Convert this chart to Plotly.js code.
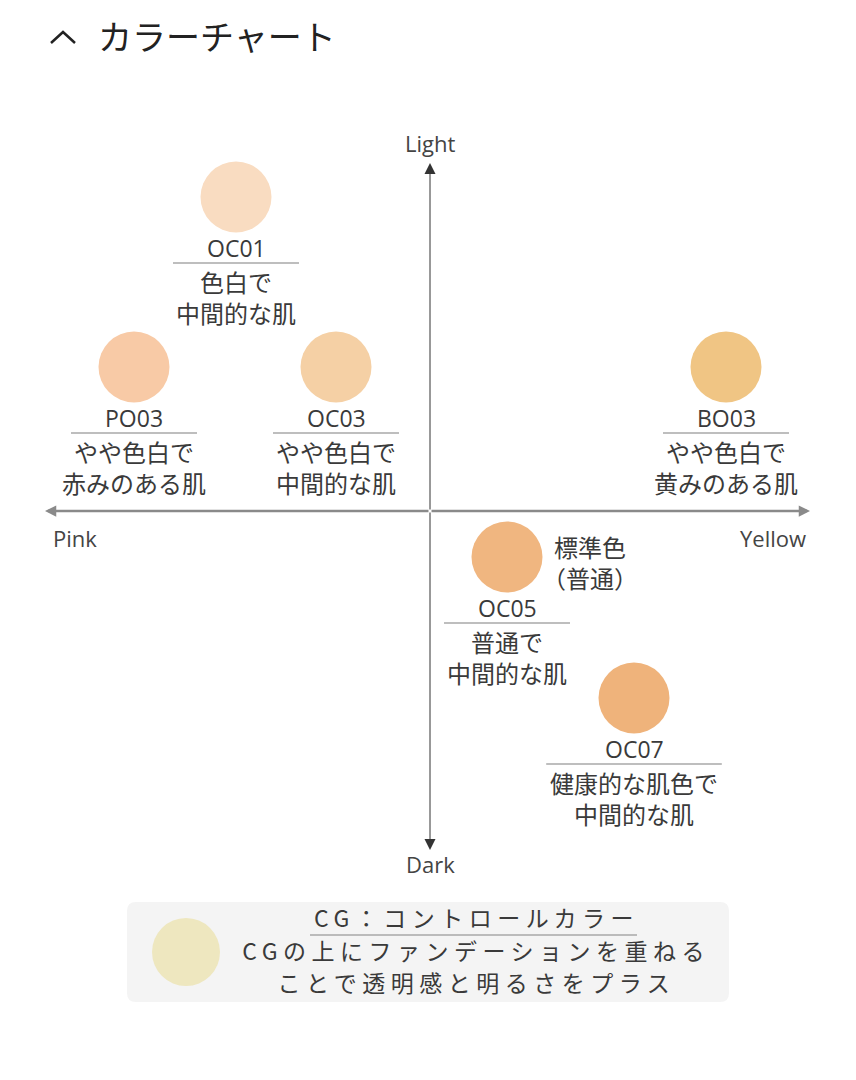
<!DOCTYPE html>
<html>
<head>
<meta charset="utf-8">
<script src="https://cdn.plot.ly/plotly-3.0.1.min.js"></script>
<style>
html,body{margin:0;padding:0;background:#fff;}
#chart{width:856px;height:1080px;}
</style>
</head>
<body>
<div id="chart"></div>
<script>
// ---- data ----
const shadeNames = ['OC01', 'PO03', 'OC03', 'BO03', 'OC05', 'OC07'];
const descLine1 = ['色白で', 'やや色白で', 'やや色白で', 'やや色白で', '普通で', '健康的な肌色で'];
const descLine2 = ['中間的な肌', '赤みのある肌', '中間的な肌', '黄みのある肌', '中間的な肌', '中間的な肌'];
const pinkYellow = [-4.85, -7.4, -2.35, 7.4, 1.925, 5.1];   // - = Pink, + = Yellow
const darkLight = [7.85, 3.6, 3.6, 3.6, -1.15, -4.675];    // - = Dark, + = Light
const shadeColors = ['#f9dcc1', '#f8caa6', '#f5d0a5', '#f0c584', '#f0b680', '#efb37b'];
const standardShade = 'OC05';
const standardNote = ['標準色', '（普通）'];
const axisLabels = {top: 'Light', bottom: 'Dark', left: 'Pink', right: 'Yellow'};
const titleText = 'カラーチャート';
const cgName = 'CG：コントロールカラー';
const cgLines = ['CGの上にファンデーションを重ねる', 'ことで透明感と明るさをプラス'];
const cgPos = [-6.1, -11.025];
const cgColor = '#eee7bf';

// ---- layout helpers ----
const W = 856, H = 1080;
const px = v => v / W;          // pixel -> paper x
const py = v => 1 - v / H;      // pixel -> paper y
const jp = '"Noto Sans CJK JP", "Noto Sans", sans-serif';
const lat = '"Open Sans", "Noto Sans CJK JP", sans-serif';
const txt = '#3a3a3a';

const annotations = [];
const shapes = [];

// title
annotations.push({xref:'paper', yref:'paper', x:px(97), y:py(35), xanchor:'left', yanchor:'middle',
  text:titleText, showarrow:false, borderpad:0, font:{family:jp, size:34, color:'#222'}});
shapes.push({type:'path', xref:'paper', yref:'paper', xsizemode:'pixel', ysizemode:'pixel',
  xanchor:0, yanchor:1, path:'M 51,-43 L 63,-32 L 75,-43', line:{color:'#222', width:2.5}});

// axes arrows
const axEnds = {left:-9.625, right:9.5, top:8.7, bottom:-8.475};
['left','right'].forEach(k => {
  annotations.push({x:axEnds[k], y:0, ax:0, ay:0, axref:'x', ayref:'y', xref:'x', yref:'y',
    text:'', showarrow:true, arrowhead:2, arrowsize:0.9, arrowwidth:2.5, arrowcolor:'#8a8a8a', standoff:0, startstandoff:0});
});
['top','bottom'].forEach(k => {
  annotations.push({x:0, y:axEnds[k], ax:0, ay:0, axref:'x', ayref:'y', xref:'x', yref:'y',
    text:'', showarrow:true, arrowhead:2, arrowsize:2.2, arrowwidth:1, arrowcolor:'#333', standoff:0, startstandoff:0});
});
const axFont = {family:lat, size:22, color:'#444'};
annotations.push({x:0, y:9.2, text:axisLabels.top, showarrow:false, borderpad:0, font:axFont, yanchor:'middle'});
annotations.push({x:0, y:-8.825, text:axisLabels.bottom, showarrow:false, borderpad:0, font:axFont, yanchor:'middle'});
annotations.push({x:-9.45, y:-0.675, text:axisLabels.left, xanchor:'left', showarrow:false, borderpad:0, font:axFont, yanchor:'middle'});
annotations.push({x:9.42, y:-0.675, text:axisLabels.right, xanchor:'right', showarrow:false, borderpad:0, font:axFont, yanchor:'middle'});

// shade labels
shadeNames.forEach((n, i) => {
  const x = pinkYellow[i], y = darkLight[i];
  annotations.push({x, y, yshift:-51, text:n, showarrow:false, yanchor:'middle', borderpad:0,
    font:{family:lat, size:23, color:txt}});
  annotations.push({x, y, yshift:-84, text:descLine1[i], showarrow:false, yanchor:'middle', borderpad:0,
    font:{family:jp, size:24, color:txt}});
  annotations.push({x, y, yshift:-115, text:descLine2[i], showarrow:false, yanchor:'middle', borderpad:0,
    font:{family:jp, size:24, color:txt}});
  const hw = Math.max(5, descLine1[i].length) * 12.4 + 1;
  shapes.push({type:'line', xref:'x', yref:'y', xsizemode:'pixel', ysizemode:'pixel', xanchor:x, yanchor:y,
    x0:-hw, x1:hw, y0:-66, y1:-66, line:{color:'#a8a8a8', width:1.3}});
  if (n === standardShade) {
    annotations.push({x, y, xshift:83, yshift:11, text:standardNote[0], showarrow:false, yanchor:'middle', borderpad:0,
      font:{family:jp, size:24, color:txt}});
    annotations.push({x, y, xshift:83, yshift:-20, text:standardNote[1], showarrow:false, yanchor:'middle', borderpad:0,
      font:{family:jp, size:24, color:txt}});
  }
});

// CG box
shapes.push({type:'path', xref:'paper', yref:'paper', xsizemode:'pixel', ysizemode:'pixel', xanchor:0, yanchor:1, layer:'below',
  path:'M 136,-902 L 720,-902 Q 729,-902 729,-911 L 729,-993 Q 729,-1002 720,-1002 L 136,-1002 Q 127,-1002 127,-993 L 127,-911 Q 127,-902 136,-902 Z',
  fillcolor:'#f4f4f4', line:{width:0}});
shapes.push({type:'line', xref:'paper', yref:'paper', x0:px(310), x1:px(637), y0:py(935), y1:py(935), line:{color:'#a8a8a8', width:1.3}});
const cgTextIdx = [];
[cgName].concat(cgLines).forEach((t, k) => {
  cgTextIdx.push(annotations.length);
  annotations.push({xref:'paper', yref:'paper', x:px(476), y:py([917, 950, 982][k]), yanchor:'middle', borderpad:0,
    text:t, showarrow:false, font:{family:jp, size:23, color:txt}});
});

const traces = [
  {type:'scatter', mode:'markers', x:pinkYellow, y:darkLight, text:shadeNames, hoverinfo:'text',
   marker:{size:71, color:shadeColors, line:{width:0}}},
  {type:'scatter', mode:'markers', x:[cgPos[0]], y:[cgPos[1]], text:['CG'], hoverinfo:'text',
   marker:{size:68, color:cgColor, line:{width:0}}}
];

const layout = {
  width:W, height:H, margin:{l:0, r:0, t:0, b:0},
  paper_bgcolor:'#fff', plot_bgcolor:'rgba(0,0,0,0)', showlegend:false,
  xaxis:{range:[-10.75, 10.65], visible:false, fixedrange:true},
  yaxis:{range:[-14.225, 12.775], visible:false, fixedrange:true},
  annotations, shapes
};

Plotly.newPlot('chart', traces, layout, {displayModeBar:false, staticPlot:true}).then(() => {
  cgTextIdx.forEach(i => {
    const t = document.querySelector('.annotation[data-index="' + i + '"] text');
    if (t) t.style.letterSpacing = '5.5px';
  });
});
</script>
</body>
</html>
